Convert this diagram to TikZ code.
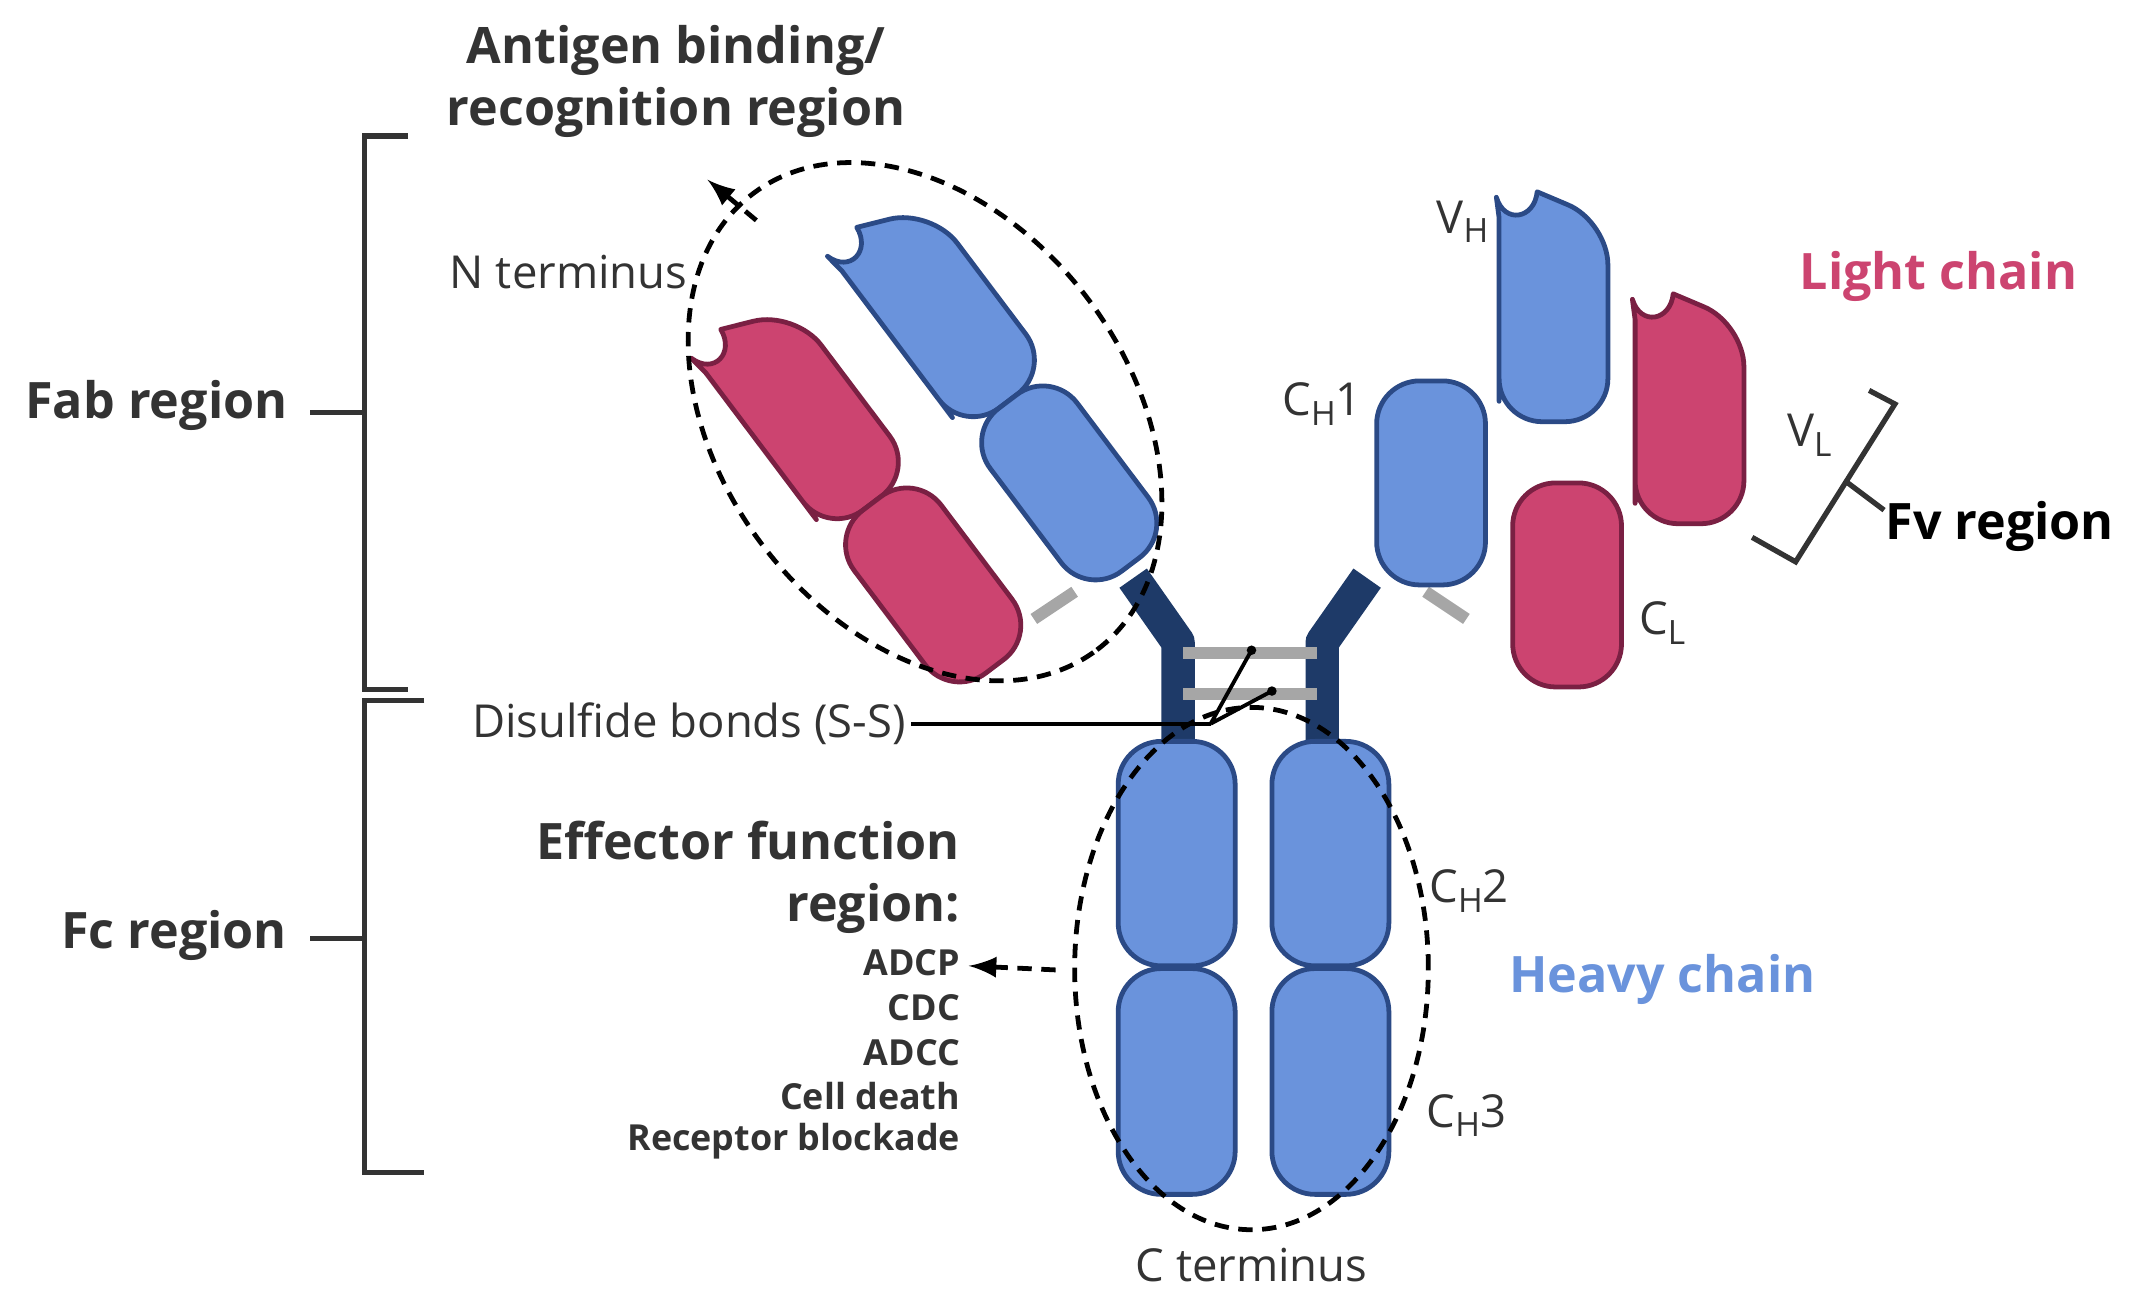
\documentclass[tikz,border=0pt]{standalone}
\usepackage{fontspec}
\setmainfont{Open Sans}
\definecolor{hb}{HTML}{6A93DC}
\definecolor{hbd}{HTML}{2B4A86}
\definecolor{lr}{HTML}{CC4470}
\definecolor{lrd}{HTML}{7A2043}
\definecolor{navy}{HTML}{1E3A68}
\definecolor{txt}{HTML}{333333}
\begin{document}
\begin{tikzpicture}[x=0.01cm,y=0.01cm,
  lbl/.style={text=txt,font=\fontsize{9.5}{11}\selectfont,inner sep=1pt},
  big/.style={text=txt,font=\bfseries\fontsize{10.5}{13}\selectfont,inner sep=1pt},
  sml/.style={text=txt,font=\bfseries\fontsize{7.5}{9.5}\selectfont,inner sep=1pt,anchor=east},
  brk/.style={line width=1.1pt,txt},
  dsh/.style={densely dashed,line width=1pt,black},
  pics/cdom/.style 2 args={code={\draw[fill=#1,draw=#2,line width=1pt,rounded corners=9] (-40,-75) rectangle (40,75);}},
  pics/vdom/.style 2 args={code={\draw[fill=#1,draw=#2,line width=1pt,line join=round] (-40,-60) [rounded corners=9] -- (-40,-75) -- (40,-75) -- (40,72) [sharp corners] -- (-12,94) .. controls (-14,74) and (-36,70) .. (-42,90) -- (-40,75) -- cycle;}}]
\useasboundingbox (0,0) rectangle (1568,-957);
% hinge
\draw[navy,line width=7pt,line join=round] (833,-425) -- (866,-472) -- (866,-548);
\draw[navy,line width=7pt,line join=round] (1005,-425) -- (972,-472) -- (972,-548);
\draw[gray!70,line width=2.5pt] (870,-480) -- (968,-480) (870,-510) -- (968,-510);
\draw[gray!70,line width=2.5pt] (760,-455) -- (790,-435);
\draw[gray!70,line width=2.5pt] (1078,-455) -- (1048,-435);
% left Fab
\pic[rotate=37] (lvl) at (596,-310) {vdom={lr}{lrd}};
\pic[rotate=37] (lcl) at (686,-430) {cdom={lr}{lrd}};
\pic[rotate=37] (lvh) at (696,-235) {vdom={hb}{hbd}};
\pic[rotate=37] (lch) at (786,-355) {cdom={hb}{hbd}};
% right Fab
\begin{scope}[shift={(1142,-235)},rotate=-37,xscale=-1]\pic (rvh) {vdom={hb}{hbd}};\end{scope}
\begin{scope}[shift={(1052,-355)},rotate=-37,xscale=-1]\pic (rch) {cdom={hb}{hbd}};\end{scope}
\begin{scope}[shift={(1242,-310)},rotate=-37,xscale=-1]\pic (rvl) {vdom={lr}{lrd}};\end{scope}
\begin{scope}[shift={(1152,-430)},rotate=-37,xscale=-1]\pic (rcl) {cdom={lr}{lrd}};\end{scope}
% Fc
\foreach \x/\n in {865/a,978/b}{
  \draw[fill=hb,draw=hbd,line width=1pt,rounded corners=9] (\x-43,-545) rectangle (\x+43,-710);
  \draw[fill=hb,draw=hbd,line width=1pt,rounded corners=9] (\x-43,-712) rectangle (\x+43,-878);}
% ellipses
\draw[dsh,rotate around={-53:(680,-310)}] (680,-310) ellipse (210 and 150);
\draw[dsh] (920,-712) ellipse (130 and 192);
\coordinate (ag) at (520,-132);
\draw[dsh,-latex] (556,-162) -- (ag);
\coordinate (ef) at (712,-710);
\draw[dsh,-latex] (776,-713) -- (ef);
% disulfide
\node[lbl,anchor=east] (ds) at (670,-532) {Disulfide bonds (S-S)};
\draw[black,line width=0.8pt] (ds.east) -- (890,-532);
\draw[black,line width=0.8pt] (890,-532) -- (920,-478) (890,-532) -- (935,-508);
\fill (920,-478) circle (3.5) (935,-508) circle (3.5);
% brackets
\draw[brk] (300,-100) -- (268,-100) -- (268,-507) -- (300,-507);
\draw[brk] (228,-303) -- (268,-303);
\draw[brk] (312,-515) -- (268,-515) -- (268,-862) -- (312,-862);
\draw[brk] (228,-690) -- (268,-690);
\draw[brk] (1374,-287) -- (1393,-297) -- (1320,-413) -- (1288,-395);
\draw[brk] (1357,-354) -- (1385,-375);
% labels
\node[big] at (115,-298) {Fab region};
\node[big] at (128,-688) {Fc region};
\node[big,align=center] at (497,-60) {Antigen binding/\\recognition region};
\node[lbl] at (418,-200) {N terminus};
\node[lbl] at (920,-930) {C terminus};
\node[lbl] at (1075,-163) {V\raisebox{-0.4ex}{\scriptsize H}};
\node[lbl] at (972,-297) {C\raisebox{-0.4ex}{\scriptsize H}1};
\node[lbl] at (1330,-320) {V\raisebox{-0.4ex}{\scriptsize L}};
\node[lbl] at (1222,-458) {C\raisebox{-0.4ex}{\scriptsize L}};
\node[lbl] at (1080,-655) {C\raisebox{-0.4ex}{\scriptsize H}2};
\node[lbl] at (1078,-820) {C\raisebox{-0.4ex}{\scriptsize H}3};
\node[big,text=lr] at (1425,-203) {Light chain};
\node[big,text=hb] at (1222,-720) {Heavy chain};
\node[big,text=black] at (1470,-387) {Fv region};
\node[big,align=right,anchor=east] at (710,-645) {Effector function\\region:};
\node[sml] at (710,-708) {ADCP};
\node[sml] at (710,-741) {CDC};
\node[sml] at (710,-774) {ADCC};
\node[sml] at (710,-806) {Cell death};
\node[sml] at (710,-839) {Receptor blockade};
\end{tikzpicture}
\end{document}
